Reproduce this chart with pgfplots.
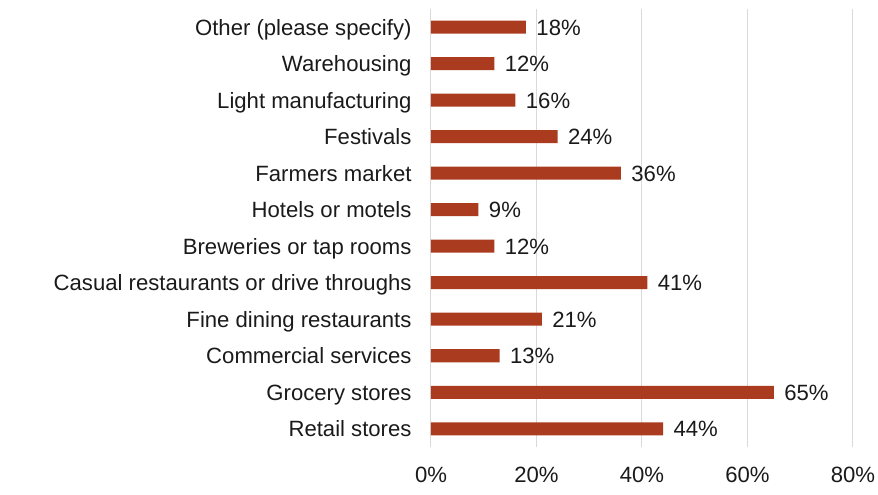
\documentclass[border=0pt]{standalone}
\usepackage{pgfplots}
\pgfplotsset{compat=1.18}
\usepackage{fontspec}
\setmainfont{Liberation Sans}
\definecolor{barc}{RGB}{170,59,30}
\definecolor{gridc}{RGB}{217,217,217}
\definecolor{txt}{RGB}{26,26,26}
\begin{document}
\begin{tikzpicture}
\useasboundingbox (-431bp,-48bp) rectangle (447bp,447bp);
\begin{axis}[
  at={(0,0)}, anchor=south west,
  scale only axis,
  width=422bp, height=438bp,
  xbar, bar width=13bp,
  xmin=0, xmax=80, ymin=-0.5, ymax=11.5,
  xtick={0,20,40,60,80},
  xticklabel={\pgfmathprintnumber{\tick}\%},
  ytick={0,...,11},
  yticklabels={Retail stores,Grocery stores,Commercial services,Fine dining restaurants,Casual restaurants or drive throughs,Breweries or tap rooms,Hotels or motels,Farmers market,Festivals,Light manufacturing,Warehousing,Other (please specify)},
  axis line style={draw=none},
  major tick length=0pt,
  xmajorgrids, grid style={gridc, line width=1bp},
  /pgf/number format/assume math mode=true,
  font=\fontsize{22.2}{26}\selectfont,
  tick label style={text=txt},
  xticklabel style={yshift=-17bp},
  yticklabel style={xshift=-16bp, anchor=east, text height=16bp, text depth=0pt},
  nodes near coords={\pgfmathprintnumber{\pgfplotspointmeta}\%},
  nodes near coords style={text=txt, xshift=7bp, anchor=west, text height=16bp, text depth=0pt, font=\fontsize{22.2}{26}\selectfont},
]
\addplot[fill=barc, draw=none] coordinates {
(44,0) (65,1) (13,2) (21,3) (41,4) (12,5) (9,6) (36,7) (24,8) (16,9) (12,10) (18,11)
};
\end{axis}
\end{tikzpicture}
\end{document}
